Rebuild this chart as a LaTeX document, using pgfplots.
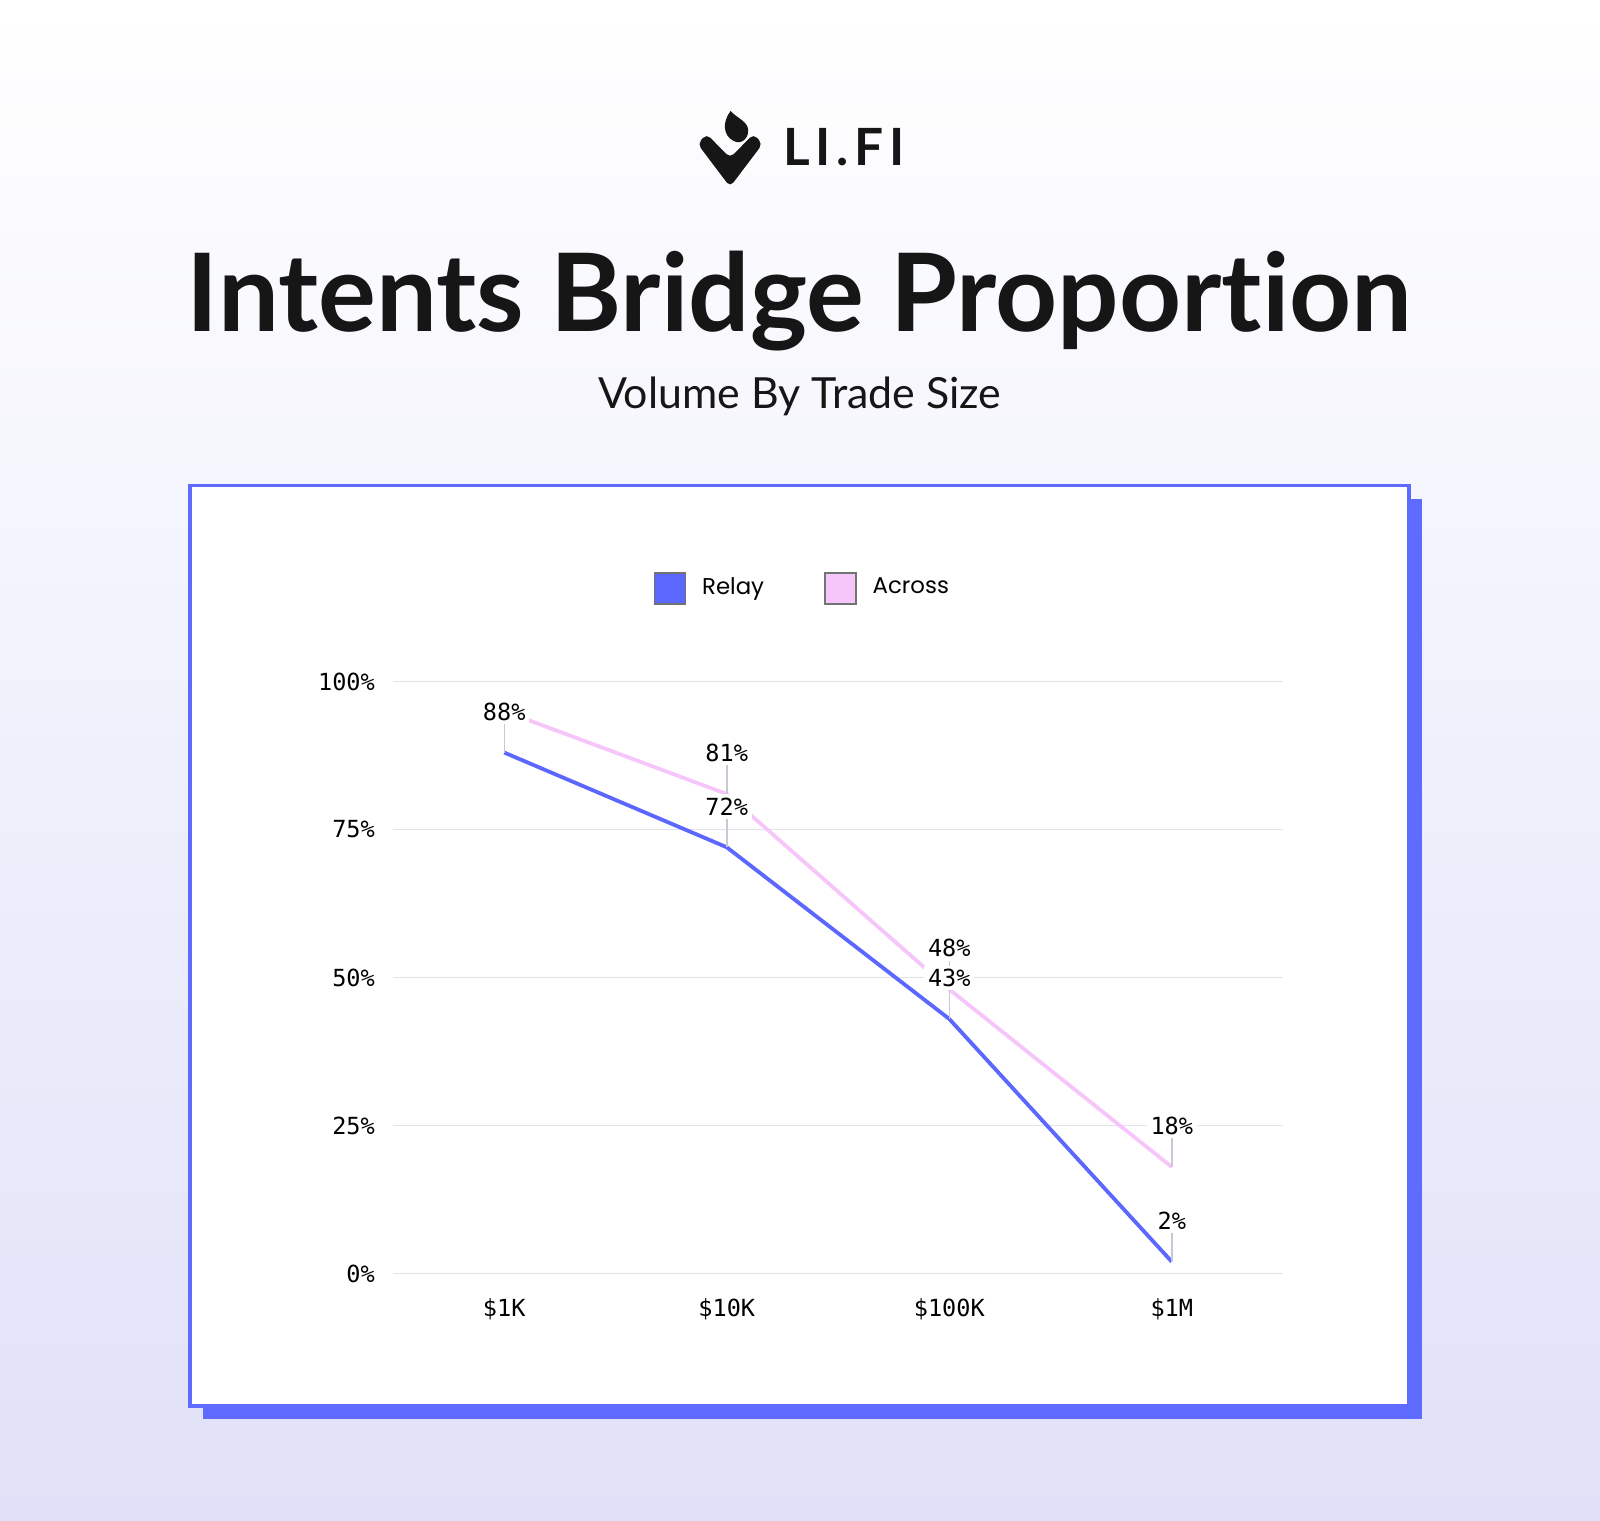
\documentclass[border=0pt]{standalone}
\usepackage{pgfplots}
\pgfplotsset{compat=1.18}
\usepackage{fontspec}
\setmainfont{Lato}[Ligatures={NoCommon,NoDiscretionary}]
\newfontfamily\legfont{Poppins}
\newfontfamily\monofont{DejaVu Sans Mono}
\definecolor{relay}{RGB}{91,103,255}
\definecolor{across}{RGB}{246,197,250}
\definecolor{gridc}{RGB}{226,226,234}
\definecolor{leader}{RGB}{200,200,212}
\definecolor{cardblue}{RGB}{95,106,255}
\definecolor{bgbot}{RGB}{224,225,248}
\definecolor{titlec}{RGB}{22,22,22}
\begin{document}
\begin{tikzpicture}
\path[use as bounding box] (0,0) rectangle (16,15.2);
\shade[top color=white, bottom color=bgbot] (0,0) rectangle (16,15.2);
\begin{scope}[shift={(0,15.2)}, x=0.01cm, y=-0.01cm]
  \fill[cardblue] (203,499) rectangle (1423,1420);
  \filldraw[fill=white, draw=cardblue, line width=0.35mm] (190,486) rectangle (1410,1407);
  % logo
  \fill[titlec] (731,111) .. controls (722,123) and (724,136) .. (734,141) .. controls (743,146) and (751,136) .. (748,127) .. controls (745,120) and (736,117) .. cycle;
  \fill[titlec, rounded corners=1.5pt] (730.5,158) -- (707,134) -- (698,144) -- (730.5,187) -- (763,144) -- (754,134) -- cycle;
  \node[anchor=base west, inner sep=0pt, text=titlec, font=\fontsize{14.6}{15}\selectfont\bfseries\addfontfeatures{LetterSpace=11}] at (783,166) {LI.FI};
  \node[anchor=base, inner sep=0pt, text=titlec, font=\fontsize{30.8}{31}\selectfont\bfseries] at (800,332) {Intents Bridge Proportion};
  \node[anchor=base, inner sep=0pt, text=titlec, font=\fontsize{12.2}{13}\selectfont] at (800,409) {Volume By Trade Size};
\end{scope}
\begin{axis}[
  at={(3.93cm,2.465cm)}, anchor=south west, scale only axis,
  width=8.9cm, height=5.92cm,
  xmin=-0.5, xmax=3.5, ymin=0, ymax=100, clip=false,
  axis line style={draw=none}, major tick length=0pt,
  xtick={0,1,2,3}, xticklabels={\$1K,\$10K,\$100K,\$1M},
  ytick={0,25,50,75,100}, yticklabels={0\%,25\%,50\%,75\%,100\%},
  ymajorgrids, grid style={draw=gridc, line width=0.15mm},
  tick label style={font=\monofont\fontsize{6.7}{7}\selectfont, text=black},
  yticklabel style={anchor=east, inner sep=0pt, xshift=-1.75mm},
  xticklabel style={anchor=base, inner sep=0pt, yshift=-4.3mm},
  legend columns=2,
  legend style={at={(axis description cs:0.292,1.157)}, anchor=west, draw=none, fill=none, inner sep=0pt,
    font=\legfont\fontsize{6.5}{8}\selectfont,
    /tikz/every odd column/.append style={column sep=0.9mm},
    /tikz/every even column/.append style={column sep=5.3mm}},
  every node near coord/.append style={font=\monofont\fontsize{6.7}{7}\selectfont, text=black, fill=white, inner sep=1pt, anchor=center, yshift=4.1mm},
]
\addlegendimage{legend image code/.code={\draw[fill=relay, draw=black!55, line width=0.15mm] (0,-1.55mm) rectangle (3.1mm,1.55mm);}}
\addlegendentry{Relay}
\addlegendimage{legend image code/.code={\draw[fill=across, draw=black!55, line width=0.15mm] (0,-1.55mm) rectangle (3.1mm,1.55mm);}}
\addlegendentry{Across}
% Across line
\addplot[across, line width=0.38mm, forget plot] table[row sep=\\] {x y\\ 0 95\\ 1 81\\ 2 48\\ 3 18\\};
% Across labels (first hidden behind Relay label)
\addplot[draw=none, forget plot, nodes near coords={\pgfplotspointmeta\%}, point meta=explicit symbolic,
  error bars/.cd, y dir=plus, y fixed=5, error mark=none, error bar style={draw=leader, line width=0.15mm}]
  table[row sep=\\, meta=y] {x y\\ 1 81\\ 2 48\\ 3 18\\};
% Relay line with labels
\addplot[relay, line width=0.38mm, forget plot, nodes near coords={\pgfplotspointmeta\%}, point meta=explicit symbolic,
  error bars/.cd, y dir=plus, y fixed=5, error mark=none, error bar style={draw=leader, line width=0.15mm}]
  table[row sep=\\, meta=y] {x y\\ 0 88\\ 1 72\\ 2 43\\ 3 2\\};
\end{axis}
\end{tikzpicture}
\end{document}
